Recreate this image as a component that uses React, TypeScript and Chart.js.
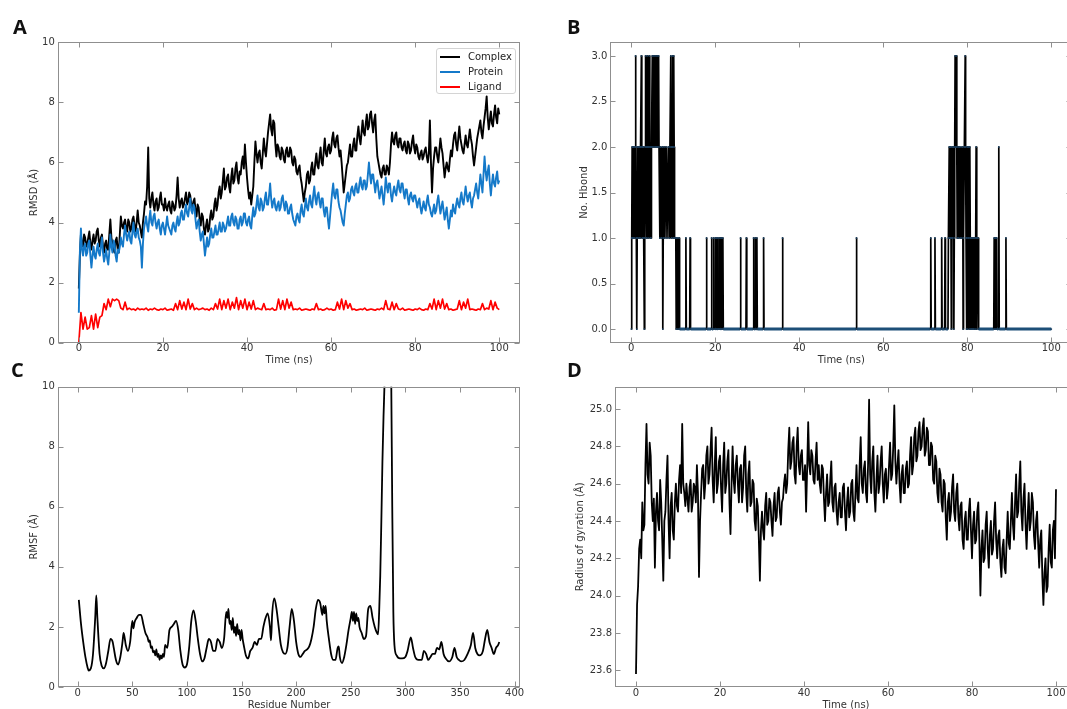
import React, { useEffect, useRef } from "react";
import { Chart, registerables } from "chart.js";

Chart.register(...registerables);

// ---------------- Data ----------------
const timeTicks = [0, 20, 40, 60, 80, 100];
const residueTicks = [0, 50, 100, 150, 200, 250, 300, 350, 400];
const rmsdTicks = [0, 2, 4, 6, 8, 10];
const hbondTicks = [0, 0.5, 1, 1.5, 2, 2.5, 3];
const rgTicks = [23.6, 23.8, 24.0, 24.2, 24.4, 24.6, 24.8, 25.0];

const seriesNames = ["Complex", "Protein", "Ligand"];
const seriesColors = ["#000000", "#1479c9", "#ff0000"];

// frames every 0.25 ns (complex, protein, Rg) and every 0.5 ns (ligand)
const frameTimes = Array.from({ length: 401 }, (_, i) => i * 0.25);
const ligandTimes = Array.from({ length: 201 }, (_, i) => i * 0.5);

const complexRmsd = [
  1.8, 2.9, 3.6, 3.3, 3.2, 3.6, 3.5, 3.2, 3.3, 3.5, 3.7, 3.3, 3.1, 3.4, 3.6, 3.3, 3.4, 3.7, 3.8, 3.4,
  3.2, 3.5, 3.6, 3.2, 3.0, 3.3, 3.4, 3.1, 3.1, 3.6, 4.1, 3.5, 3.3, 3.1, 3.0, 3.4, 3.5, 3.1, 3.0, 3.6,
  4.2, 3.9, 3.8, 4.0, 4.1, 3.8, 3.7, 4.1, 4.0, 3.7, 3.8, 4.1, 4.2, 3.9, 3.7, 4.0, 4.4, 4.0, 3.9, 3.7,
  3.5, 4.0, 4.3, 4.7, 4.6, 5.2, 6.5, 4.8, 4.5, 4.8, 5.0, 4.6, 4.4, 4.7, 4.8, 4.4, 4.5, 4.8, 5.0, 4.6,
  4.6, 4.4, 4.8, 4.5, 4.4, 4.6, 4.7, 4.4, 4.3, 4.7, 4.6, 4.4, 4.5, 4.9, 5.5, 4.8, 4.5, 4.7, 4.8, 4.5,
  4.6, 4.8, 5.0, 4.6, 4.7, 5.0, 4.9, 4.6, 4.5, 4.7, 4.8, 4.4, 4.2, 4.6, 4.5, 4.1, 3.9, 4.3, 4.2, 3.8,
  3.6, 3.9, 4.1, 3.7, 3.8, 4.2, 4.4, 4.1, 4.2, 4.6, 4.8, 4.4, 4.6, 5.0, 5.2, 4.8, 5.0, 5.4, 5.8, 5.1,
  5.2, 5.5, 5.6, 5.2, 5.0, 5.5, 5.8, 5.3, 5.4, 5.8, 6.0, 5.5, 5.3, 5.7, 5.6, 6.0, 6.2, 5.8, 6.6, 6.0,
  5.5, 5.1, 4.8, 5.0, 4.6, 4.9, 5.2, 6.0, 6.7, 6.3, 6.0, 6.3, 6.4, 6.0, 5.8, 6.3, 6.8, 6.4, 6.2, 6.6,
  7.0, 7.3, 7.6, 7.1, 6.9, 7.4, 7.3, 6.6, 6.2, 6.6, 6.5, 6.2, 6.1, 6.5, 6.4, 6.1, 6.0, 6.4, 6.5, 6.2,
  6.2, 6.5, 6.4, 6.0, 5.9, 6.2, 6.1, 5.7, 5.6, 5.8, 5.9, 5.5, 5.3, 5.0, 4.7, 5.0, 5.2, 5.6, 5.7, 5.3,
  5.4, 5.8, 6.0, 5.6, 5.6, 6.0, 6.3, 5.9, 5.8, 6.2, 6.5, 6.0, 5.9, 6.4, 6.8, 6.3, 6.2, 6.5, 6.6, 6.3,
  6.4, 6.8, 7.0, 6.6, 6.5, 6.8, 6.9, 6.5, 6.2, 6.4, 6.0, 5.5, 5.0, 5.3, 5.6, 5.9, 6.0, 6.3, 6.6, 6.2,
  6.2, 6.6, 6.8, 6.4, 6.4, 6.9, 7.2, 6.8, 6.6, 7.0, 7.4, 7.0, 6.9, 7.3, 7.6, 7.1, 7.2, 7.6, 7.7, 7.3,
  7.0, 7.4, 7.6, 6.8, 6.2, 6.0, 5.8, 5.6, 5.5, 5.8, 5.9, 5.6, 5.6, 5.9, 5.8, 5.6, 6.0, 6.6, 7.0, 6.7,
  6.6, 6.9, 7.0, 6.6, 6.5, 6.8, 6.8, 6.5, 6.4, 6.6, 6.7, 6.4, 6.3, 6.7, 6.6, 6.3, 6.4, 6.7, 6.9, 6.5,
  6.3, 6.6, 6.5, 6.2, 6.1, 6.3, 6.4, 6.1, 6.2, 6.4, 6.5, 6.2, 6.0, 6.3, 7.4, 6.0, 5.0, 5.8, 6.2, 6.5,
  6.5, 6.2, 6.0, 6.4, 6.8, 6.5, 6.3, 5.9, 5.5, 5.8, 6.0, 5.8, 5.7, 6.1, 6.4, 6.2, 6.6, 6.9, 7.0, 6.6,
  6.4, 6.8, 7.2, 6.8, 6.6, 6.4, 6.3, 6.6, 6.9, 6.6, 6.5, 6.8, 7.1, 6.8, 6.6, 6.2, 5.9, 6.2, 6.5, 6.8,
  7.0, 7.2, 7.4, 7.0, 6.8, 7.2, 7.5, 7.8, 8.2, 7.5, 7.1, 7.4, 7.7, 7.3, 7.2, 7.6, 7.9, 7.5, 7.3, 7.8,
  7.6,
];

const proteinRmsd = [
  1.0, 3.0, 3.8, 3.1, 2.9, 3.2, 3.3, 2.9, 3.0, 3.3, 3.4, 2.9, 2.5, 2.9, 3.2, 2.9, 2.8, 3.1, 3.3, 3.0,
  2.9, 3.2, 3.5, 3.0, 2.7, 2.9, 3.1, 2.8, 2.6, 3.0, 3.6, 3.2, 3.0, 3.4, 3.3, 2.9, 2.7, 3.1, 3.0, 3.2,
  3.5, 3.3, 3.2, 3.6, 3.9, 3.6, 3.4, 3.6, 3.7, 3.4, 3.3, 3.7, 4.0, 3.6, 3.5, 3.7, 3.8, 3.5, 3.4, 3.2,
  2.5, 3.3, 3.8, 4.0, 4.2, 3.9, 3.7, 4.1, 4.4, 4.0, 3.9, 4.2, 4.3, 4.0, 3.8, 4.0, 4.1, 3.8, 3.6, 3.9,
  4.0, 3.8, 3.6, 3.9, 4.2, 3.9, 3.8, 3.7, 3.6, 3.9, 4.0, 3.8, 3.7, 4.0, 4.2, 3.9, 4.0, 4.3, 4.4, 4.1,
  4.1, 4.4, 4.6, 4.3, 4.2, 4.5, 4.8, 4.4, 4.3, 4.6, 4.5, 4.1, 3.8, 4.0, 4.1, 3.7, 3.4, 3.6, 3.7, 3.3,
  2.9, 3.2, 3.5, 3.2, 3.3, 3.6, 3.8, 3.5, 3.5, 3.7, 3.9, 3.6, 3.6, 3.8, 4.0, 3.7, 3.7, 4.0, 3.9, 3.7,
  3.8, 4.0, 4.2, 3.9, 3.9, 4.2, 4.3, 4.0, 3.9, 4.2, 4.1, 3.8, 3.8, 4.1, 4.2, 3.9, 4.0, 4.3, 4.3, 4.0,
  3.9, 4.1, 4.2, 3.9, 3.8, 4.2, 4.5, 4.2, 4.3, 4.6, 4.9, 4.5, 4.4, 4.8, 4.7, 4.4, 4.5, 4.8, 5.0, 4.6,
  4.6, 4.9, 5.3, 4.8, 4.5, 4.7, 4.8, 4.5, 4.4, 4.6, 4.7, 4.4, 4.5, 4.8, 4.9, 4.6, 4.4, 4.7, 4.6, 4.3,
  4.3, 4.5, 4.6, 4.3, 4.1, 4.0, 3.9, 4.2, 4.3, 4.1, 4.0, 4.4, 4.6, 4.3, 4.2, 4.5, 4.8, 4.5, 4.4, 4.7,
  4.9, 4.6, 4.5, 4.9, 5.2, 4.8, 4.6, 4.9, 5.0, 4.7, 4.5, 4.8, 4.8, 4.4, 4.2, 4.5, 4.5, 4.1, 3.8, 4.2,
  4.6, 5.0, 5.3, 4.9, 4.8, 5.1, 5.1, 4.7, 4.5, 4.4, 4.2, 4.0, 3.9, 4.3, 4.6, 4.9, 5.0, 4.7, 4.8, 5.1,
  5.2, 5.0, 4.9, 5.2, 5.3, 5.0, 5.0, 5.3, 5.5, 5.2, 5.1, 5.4, 5.4, 5.1, 5.2, 5.6, 6.0, 5.6, 5.3, 5.6,
  5.6, 5.3, 5.0, 5.3, 5.4, 5.1, 4.8, 5.0, 5.2, 4.9, 4.6, 5.0, 5.5, 5.2, 5.0, 5.3, 5.3, 4.9, 4.7, 5.0,
  5.2, 5.0, 4.9, 5.2, 5.4, 5.1, 5.0, 5.3, 5.3, 5.0, 4.8, 5.1, 5.1, 4.8, 4.6, 4.9, 5.0, 4.8, 4.7, 4.9,
  4.9, 4.7, 4.5, 4.7, 4.8, 4.5, 4.3, 4.5, 4.7, 4.5, 4.4, 4.7, 4.9, 4.6, 4.5, 4.3, 4.2, 4.4, 4.6, 4.3,
  4.4, 4.7, 4.9, 4.6, 4.3, 4.5, 4.7, 4.4, 4.1, 4.3, 4.5, 4.1, 3.8, 4.1, 4.4, 4.2, 4.6, 4.4, 4.3, 4.6,
  4.8, 4.6, 4.5, 4.8, 5.0, 4.7, 4.6, 4.9, 5.2, 4.9, 4.7, 4.9, 5.0, 4.7, 4.5, 4.8, 4.9, 5.1, 5.3, 5.0,
  4.8, 5.2, 5.6, 5.3, 5.0, 5.6, 6.2, 5.7, 5.4, 5.7, 5.9, 5.3, 4.9, 5.3, 5.6, 5.3, 5.2, 5.5, 5.7, 5.3,
  5.4,
];

const ligandRmsd = [
  0.0, 1.0, 0.45, 0.85, 0.45, 0.5, 0.9, 0.45, 0.95, 0.5,
  0.85, 0.9, 1.3, 1.1, 1.45, 1.2, 1.45, 1.4, 1.45, 1.4,
  1.15, 1.1, 1.35, 1.1, 1.15, 1.1, 1.12, 1.08, 1.15, 1.1,
  1.12, 1.1, 1.15, 1.08, 1.12, 1.1, 1.15, 1.1, 1.08, 1.12,
  1.1, 1.15, 1.08, 1.1, 1.12, 1.08, 1.3, 1.1, 1.4, 1.12,
  1.35, 1.1, 1.45, 1.12, 1.3, 1.1, 1.15, 1.1, 1.12, 1.15,
  1.1, 1.12, 1.08, 1.15, 1.1, 1.3, 1.12, 1.45, 1.1, 1.4,
  1.15, 1.45, 1.1, 1.35, 1.15, 1.5, 1.1, 1.4, 1.15, 1.45,
  1.1, 1.35, 1.12, 1.4, 1.1, 1.15, 1.12, 1.1, 1.3, 1.1,
  1.12, 1.1, 1.15, 1.08, 1.1, 1.45, 1.12, 1.4, 1.1, 1.45,
  1.15, 1.35, 1.1, 1.12, 1.1, 1.15, 1.08, 1.1, 1.12, 1.1,
  1.08, 1.12, 1.1, 1.3, 1.1, 1.12, 1.08, 1.1, 1.15, 1.1,
  1.12, 1.08, 1.1, 1.35, 1.12, 1.45, 1.1, 1.4, 1.15, 1.3,
  1.1, 1.12, 1.08, 1.1, 1.12, 1.1, 1.15, 1.08, 1.1, 1.12,
  1.1, 1.08, 1.12, 1.1, 1.15, 1.1, 1.4, 1.12, 1.1, 1.35,
  1.1, 1.3, 1.12, 1.1, 1.15, 1.08, 1.1, 1.12, 1.1, 1.08,
  1.12, 1.1, 1.15, 1.1, 1.08, 1.12, 1.1, 1.3, 1.12, 1.45,
  1.1, 1.4, 1.15, 1.45, 1.12, 1.3, 1.1, 1.12, 1.08, 1.1,
  1.12, 1.4, 1.1, 1.35, 1.15, 1.45, 1.1, 1.12, 1.1, 1.08,
  1.12, 1.1, 1.3, 1.1, 1.15, 1.12, 1.4, 1.1, 1.35, 1.15,
  1.1,
];

// [time (ns), number of H-bonds]
const hbondCount = [
  [0, 0], [0.1, 1], [0.2, 2], [0.3, 1], [0.4, 2], [0.5, 1], [0.6, 2], [0.8, 1], [0.9, 2], [1.0, 3],
  [1.1, 2], [1.2, 1], [1.3, 0], [1.4, 1], [1.5, 2], [1.6, 1], [1.7, 2], [1.9, 1], [2.0, 2], [2.1, 1],
  [2.2, 2], [2.4, 3], [2.5, 2], [2.6, 1], [2.7, 2], [2.8, 1], [2.9, 2], [3.0, 1], [3.1, 0], [3.2, 1],
  [3.3, 2], [3.4, 3], [3.5, 2], [3.6, 1], [3.7, 2], [3.8, 3], [3.9, 2], [4.0, 1], [4.1, 2], [4.3, 3],
  [4.4, 2], [4.5, 1], [4.6, 2], [4.7, 1], [4.8, 2], [5.0, 3], [5.1, 2], [5.3, 3], [5.4, 2], [5.6, 3],
  [5.7, 2], [5.9, 3], [6.0, 2], [6.2, 3], [6.3, 2], [6.5, 3], [6.6, 2], [6.8, 1], [7.0, 2], [7.2, 1],
  [7.4, 2], [7.5, 0], [7.6, 1], [7.8, 2], [8.0, 1], [8.3, 2], [8.5, 1], [8.8, 2], [9.0, 1], [9.2, 2],
  [9.4, 3], [9.5, 2], [9.6, 1], [9.7, 2], [9.8, 3], [9.9, 2], [10.0, 1], [10.1, 3], [10.2, 2], [10.3, 1],
  [10.6, 1], [10.7, 0], [10.8, 1], [10.9, 0], [11.1, 1], [11.2, 0], [11.4, 1], [11.5, 0],
  [12.9, 0], [13.0, 1], [13.1, 0], [13.9, 0], [14.0, 1], [14.1, 0], [17.8, 0], [17.9, 1], [18.0, 0],
  [19.0, 0], [19.1, 1], [19.2, 0], [19.5, 0], [19.6, 1], [19.7, 0], [19.9, 0], [20.0, 1], [20.1, 0],
  [20.2, 0], [20.3, 1], [20.4, 0], [20.5, 0], [20.6, 1], [20.7, 0], [20.8, 0], [20.9, 1], [21.0, 0],
  [21.1, 0], [21.2, 1], [21.3, 0], [21.4, 0], [21.5, 1], [21.6, 0], [21.7, 0], [21.8, 1], [21.9, 0],
  [25.9, 0], [26.0, 1], [26.1, 0], [27.3, 0], [27.4, 1], [27.5, 0], [29.0, 0], [29.1, 1], [29.2, 0],
  [29.4, 0], [29.5, 1], [29.6, 0], [29.8, 0], [29.9, 1], [30.0, 0], [31.4, 0], [31.5, 1], [31.6, 0],
  [35.9, 0], [36.0, 1], [36.1, 0], [53.5, 0], [53.6, 1], [53.7, 0],
  [71.2, 0], [71.3, 1], [71.4, 0], [72.2, 0], [72.3, 1], [72.4, 0], [73.8, 0], [73.9, 1], [74.0, 0],
  [74.6, 0], [74.7, 1], [74.8, 0], [75.4, 0], [75.5, 1], [75.7, 2], [75.8, 1], [75.9, 2], [76.0, 1],
  [76.1, 2], [76.2, 0], [76.3, 1], [76.4, 2], [76.5, 1], [76.7, 2], [76.8, 0], [76.9, 1], [77.0, 2],
  [77.1, 3], [77.2, 2], [77.4, 3], [77.5, 2], [77.6, 1], [77.8, 2], [77.9, 1], [78.1, 2], [78.3, 1],
  [78.5, 2], [78.7, 1], [78.9, 2], [79.0, 0], [79.1, 1], [79.3, 2], [79.5, 3], [79.6, 2], [79.7, 1],
  [79.8, 0], [79.9, 1], [80.0, 2], [80.1, 0], [80.2, 1], [80.3, 2], [80.4, 1], [80.5, 0], [80.6, 2],
  [80.7, 1], [80.8, 0], [80.9, 1], [81.0, 0], [81.1, 1], [81.2, 0], [81.3, 1], [81.4, 0], [81.5, 1],
  [81.6, 0], [81.7, 1], [81.9, 0], [82.0, 1], [82.1, 2], [82.2, 1], [82.3, 0], [82.4, 1], [82.6, 1],
  [82.7, 0], [86.3, 0], [86.4, 1], [86.5, 0], [86.6, 1], [86.7, 0], [86.8, 1], [86.9, 0], [87.0, 1],
  [87.1, 0], [87.4, 0], [87.5, 2], [87.6, 0], [89.1, 0], [89.2, 1], [89.3, 0], [100, 0],
];

// [residue number, RMSF (Å)]
const residueRmsf = [
  [1, 2.9], [3, 2.1], [5, 1.5], [7, 1.0], [9, 0.65], [10, 0.55], [12, 0.62], [14, 1.1], [16, 2.3], [17, 3.05],
  [18, 2.3], [20, 1.1], [22, 0.7], [24, 0.62], [26, 0.8], [28, 1.2], [30, 1.6], [32, 1.5], [33, 1.3], [35, 0.9],
  [37, 0.75], [39, 1.0], [41, 1.5], [42, 1.8], [44, 1.4], [46, 1.2], [48, 1.5], [50, 2.2], [51, 1.95], [52, 2.15],
  [54, 2.3], [56, 2.4], [58, 2.4], [60, 2.1], [62, 1.8], [64, 1.65], [65, 1.5], [66, 1.55], [67, 1.3], [68, 1.35],
  [69, 1.15], [70, 1.2], [71, 1.05], [72, 1.25], [73, 1.0], [74, 1.1], [75, 0.9], [76, 1.05], [77, 0.95], [78, 1.1],
  [79, 1.0], [80, 1.4], [82, 1.3], [84, 1.9], [86, 2.0], [88, 2.1], [90, 2.2], [92, 1.9],
  [94, 1.2], [96, 0.75], [98, 0.65], [100, 0.75], [102, 1.3], [104, 2.2], [106, 2.55], [108, 2.2], [110, 1.6], [112, 1.1],
  [114, 0.85], [116, 0.95], [118, 1.3], [120, 1.6], [122, 1.5], [124, 1.2], [126, 1.2], [128, 1.6], [130, 1.5], [132, 1.3],
  [134, 1.6], [136, 2.5], [137, 2.3], [138, 2.6], [139, 2.1], [140, 2.2], [141, 1.9], [142, 2.3], [143, 1.8], [144, 2.0],
  [145, 1.7], [146, 2.1], [147, 1.75], [148, 1.9], [149, 1.55], [150, 1.9], [151, 1.6], [152, 1.4],
  [154, 1.05], [156, 0.95], [158, 1.2], [160, 1.3], [162, 1.5], [164, 1.4], [166, 1.6], [168, 1.6], [170, 2.0], [172, 2.3],
  [174, 2.45], [176, 2.0], [177, 1.55], [178, 2.4], [180, 2.95], [182, 2.6], [184, 2.0], [186, 1.4], [188, 1.15], [190, 1.1],
  [192, 1.3], [194, 2.0], [196, 2.6], [198, 2.2], [200, 1.5], [202, 1.1], [204, 1.0], [206, 1.1], [208, 1.2], [210, 1.25],
  [212, 1.35], [214, 1.6], [216, 2.0], [218, 2.6], [220, 2.9], [222, 2.8], [224, 2.4], [225, 2.7], [226, 2.45], [227, 2.7],
  [228, 2.2], [230, 1.6], [232, 1.1], [234, 0.9], [236, 0.9], [238, 1.3], [239, 1.35], [240, 1.0], [242, 0.8], [244, 1.0],
  [246, 1.4], [248, 1.9], [250, 2.3], [251, 2.5], [252, 2.2], [253, 2.5], [254, 2.1], [255, 2.45], [256, 2.2], [257, 2.3],
  [258, 2.0], [260, 1.8], [262, 1.6], [264, 1.7], [266, 2.6], [268, 2.7],
  [270, 2.3], [272, 2.0], [274, 1.8], [275, 1.75], [276, 2.5], [277, 3.7], [278, 5.5], [279, 7.5], [280, 9.0], [281, 10.2],
  [283, 14.0], [285, 14.0], [287, 10.5], [288, 6.0], [289, 2.5], [290, 1.4], [292, 1.05], [295, 0.95], [297, 0.95], [300, 1.0],
  [302, 1.2], [305, 1.65], [307, 1.3], [309, 1.0], [312, 0.9], [315, 0.9], [317, 1.2], [319, 1.1], [321, 0.9], [323, 1.0],
  [325, 1.1], [327, 1.1], [329, 1.3], [331, 1.25], [333, 1.5], [335, 1.1], [337, 0.95], [340, 0.85], [343, 1.0], [345, 1.3],
  [347, 1.0], [349, 0.9], [351, 0.85], [354, 0.9], [357, 1.1], [360, 1.4], [362, 1.8], [364, 1.3], [366, 1.1], [368, 1.05],
  [371, 1.2], [373, 1.6], [375, 1.9], [377, 1.5], [379, 1.3], [381, 1.1], [383, 1.3], [385, 1.4], [386, 1.5],
];

const radiusGyration = [
  23.58, 23.95, 24.05, 24.25, 24.3, 24.2, 24.5, 24.35, 24.38, 24.7, 24.92, 24.65, 24.6, 24.82, 24.75, 24.5, 24.4, 24.52, 24.15, 24.45,
  24.55, 24.4, 24.35, 24.62, 24.5, 24.3, 24.08, 24.4, 24.45, 24.62, 24.75, 24.4, 24.2, 24.48, 24.55, 24.35, 24.3, 24.5, 24.6, 24.48,
  24.45, 24.62, 24.7, 24.55, 24.92, 24.6, 24.55, 24.48, 24.6, 24.52, 24.45, 24.58, 24.62, 24.45, 24.5, 24.6, 24.58, 24.5, 24.7, 24.55,
  24.1, 24.4, 24.55, 24.68, 24.7, 24.52, 24.6, 24.75, 24.8, 24.6, 24.65, 24.78, 24.9, 24.62, 24.5, 24.7, 24.85, 24.55, 24.6, 24.72,
  24.75, 24.58, 24.45, 24.7, 24.82, 24.55, 24.6, 24.72, 24.78, 24.5, 24.33, 24.6, 24.8, 24.62, 24.55, 24.7, 24.75, 24.6, 24.5, 24.68,
  24.7, 24.5, 24.58, 24.75, 24.8, 24.55, 24.45, 24.65, 24.72, 24.48, 24.5, 24.62, 24.6, 24.4, 24.35, 24.52, 24.48, 24.3, 24.08, 24.35,
  24.45, 24.35, 24.3, 24.48, 24.55, 24.38, 24.4, 24.52, 24.5, 24.4, 24.32, 24.48, 24.55, 24.4, 24.42, 24.55, 24.58, 24.45, 24.38, 24.5,
  24.52, 24.6, 24.65, 24.55, 24.6, 24.78, 24.9, 24.68, 24.72, 24.82, 24.85, 24.65, 24.6, 24.8, 24.9, 24.7, 24.65, 24.75, 24.78, 24.62,
  24.62, 24.7, 24.45, 24.68, 24.93, 24.7, 24.65, 24.78, 24.75, 24.62, 24.6, 24.72, 24.82, 24.62, 24.7, 24.6, 24.55, 24.7, 24.68, 24.52,
  24.4, 24.55, 24.65, 24.48, 24.5, 24.62, 24.72, 24.5, 24.45, 24.58, 24.6, 24.45, 24.38, 24.5, 24.55, 24.42, 24.42, 24.58, 24.6, 24.45,
  24.35, 24.5, 24.58, 24.42, 24.45, 24.6, 24.62, 24.45, 24.4, 24.55, 24.7, 24.52, 24.5, 24.7, 24.85, 24.6, 24.55, 24.68, 24.72, 24.55,
  24.5, 24.7, 25.05, 24.65, 24.55, 24.72, 24.8, 24.55, 24.45, 24.62, 24.75, 24.55, 24.6, 24.72, 24.8, 24.6, 24.5, 24.65, 24.68, 24.52,
  24.58, 24.7, 24.82, 24.62, 24.65, 24.8, 25.02, 24.72, 24.6, 24.7, 24.78, 24.6, 24.5, 24.65, 24.7, 24.55, 24.55, 24.68, 24.72, 24.58,
  24.6, 24.75, 24.85, 24.65, 24.7, 24.85, 24.9, 24.72, 24.75, 24.88, 24.93, 24.78, 24.8, 24.9, 24.95, 24.75, 24.78, 24.9, 24.88, 24.7,
  24.7, 24.82, 24.8, 24.62, 24.6, 24.75, 24.72, 24.55, 24.5, 24.68, 24.65, 24.5, 24.45, 24.62, 24.6, 24.42, 24.3, 24.5, 24.55, 24.4,
  24.45, 24.58, 24.65, 24.45, 24.4, 24.55, 24.6, 24.42, 24.35, 24.48, 24.5, 24.3, 24.25, 24.4, 24.45, 24.3, 24.3, 24.45, 24.52, 24.35,
  24.2, 24.38, 24.45, 24.28, 24.3, 24.45, 24.5, 24.3, 24.0, 24.25, 24.35, 24.18, 24.2, 24.38, 24.45, 24.25, 24.15, 24.32, 24.4, 24.22,
  24.25, 24.4, 24.5, 24.3, 24.2, 24.32, 24.35, 24.18, 24.1, 24.25, 24.3, 24.15, 24.12, 24.3, 24.45, 24.28, 24.25, 24.4, 24.55, 24.38,
  24.3, 24.5, 24.65, 24.42, 24.45, 24.6, 24.72, 24.45, 24.35, 24.52, 24.6, 24.38, 24.25, 24.42, 24.55, 24.35, 24.4, 24.55, 24.5, 24.32,
  24.25, 24.4, 24.45, 24.28, 24.15, 24.3, 24.35, 24.1, 23.95, 24.12, 24.2, 24.02, 24.05, 24.25, 24.38, 24.18, 24.15, 24.35, 24.4, 24.2,
  24.57,
];

// ---------------- Styling / layout ----------------
const FONT = "'DejaVu Sans', 'Liberation Sans', sans-serif";
const TEXT = "#333333";
const FRAME = "#8f8f8f";

const frameTicksPlugin = {
  id: "frameTicks",
  afterDatasetsDraw(chart: any) {
    const { ctx, chartArea: a, scales } = chart;
    const xs = scales.x;
    const ys = scales.y;
    const L = Math.round(a.left) + 0.5;
    const R = Math.round(a.right) - 0.5;
    const T = Math.round(a.top) + 0.5;
    const B = Math.round(a.bottom) - 0.5;
    const len = 5;
    ctx.save();
    ctx.strokeStyle = FRAME;
    ctx.lineWidth = 1;
    ctx.strokeRect(L, T, R - L, B - T);
    ctx.beginPath();
    xs.ticks.forEach((t: any) => {
      const p = Math.round(xs.getPixelForValue(t.value)) + 0.5;
      ctx.moveTo(p, B);
      ctx.lineTo(p, B - len);
      ctx.moveTo(p, T);
      ctx.lineTo(p, T + len);
    });
    ys.ticks.forEach((t: any) => {
      const p = Math.round(ys.getPixelForValue(t.value)) + 0.5;
      ctx.moveTo(L, p);
      ctx.lineTo(L + len, p);
      ctx.moveTo(R, p);
      ctx.lineTo(R - len, p);
    });
    ctx.stroke();
    ctx.restore();
  },
};

function axis(opts: any) {
  const { min, max, ticks, title, fmt, size, isX, pad } = opts;
  return {
    type: "linear",
    min,
    max,
    afterBuildTicks: (s: any) => {
      s.ticks = ticks.map((v: number) => ({ value: v }));
    },
    afterFit: (s: any) => {
      if (isX) s.height = size;
      else s.width = size;
    },
    grid: { display: false, drawTicks: false },
    border: { display: false },
    ticks: {
      autoSkip: false,
      maxRotation: 0,
      padding: pad,
      color: TEXT,
      font: { family: FONT, size: 10 },
      callback: (v: number) => fmt(v),
    },
    title: {
      display: true,
      text: title,
      color: TEXT,
      padding: 0,
      font: { family: FONT, size: 10 },
    },
  };
}

function baseOptions(p: any) {
  return {
    responsive: false,
    maintainAspectRatio: false,
    animation: false,
    devicePixelRatio: 1,
    layout: { padding: p.padding },
    plugins: { legend: { display: false }, tooltip: { enabled: false } },
    elements: { point: { radius: 0 }, line: { borderJoinStyle: "round" } },
    scales: {
      x: axis({ ...p.x, isX: true, size: 24, pad: 0 }),
      y: axis({ ...p.y, isX: false, size: p.yWidth, pad: 3 }),
    },
  };
}

const int = (v: number) => String(v);
const one = (v: number) => v.toFixed(1);

const panelA = {
  left: 0, top: 0, width: 533, height: 372,
  padding: { left: 28.5, top: 42.3, right: 12.7, bottom: 5.3 },
  yWidth: 29.3,
  x: { min: -5, max: 105, ticks: timeTicks, title: "Time (ns)", fmt: int },
  y: { min: 0, max: 10, ticks: rmsdTicks, title: "RMSD (Å)", fmt: int },
  datasets: () => [
    { label: seriesNames[0], data: frameTimes.map((t, i) => ({ x: t, y: complexRmsd[i] })), borderColor: seriesColors[0], borderWidth: 1.9, order: 3 },
    { label: seriesNames[1], data: frameTimes.map((t, i) => ({ x: t, y: proteinRmsd[i] })), borderColor: seriesColors[1], borderWidth: 1.9, order: 2 },
    { label: seriesNames[2], data: ligandTimes.map((t, i) => ({ x: t, y: ligandRmsd[i] })), borderColor: seriesColors[2], borderWidth: 1.7, order: 1 },
  ],
};

const isZeroSeg = (c: any) => c.p0.parsed.y === 0 && c.p1.parsed.y === 0;

const panelB = {
  left: 533, top: 0, width: 547, height: 372,
  padding: { left: 45, top: 42.3, right: 7.7, bottom: 5.3 },
  yWidth: 32.3,
  x: { min: -5, max: 105, ticks: timeTicks, title: "Time (ns)", fmt: int },
  y: { min: -0.15, max: 3.15, ticks: hbondTicks, title: "No. Hbond", fmt: one },
  datasets: () => [
    {
      label: "Hbond",
      data: hbondCount.map((d) => ({ x: d[0], y: d[1] })),
      borderColor: "#000000",
      borderWidth: 1.7,
      pointRadius: 0.9,
      pointBorderWidth: 0,
      pointBackgroundColor: "#1c3f5e",
      segment: {
        borderColor: (c: any) => (isZeroSeg(c) ? "#1d4f78" : undefined),
        borderWidth: (c: any) => (isZeroSeg(c) ? 3 : undefined),
      },
    },
  ],
};

const panelC = {
  left: 0, top: 372, width: 533, height: 345,
  padding: { left: 28.5, top: 14.7, right: 12.7, bottom: 6 },
  yWidth: 29.3,
  x: { min: -18.25, max: 405.25, ticks: residueTicks, title: "Residue Number", fmt: int },
  y: { min: 0, max: 10, ticks: rmsdTicks, title: "RMSF (Å)", fmt: int },
  datasets: () => [
    {
      label: "RMSF",
      data: residueRmsf.map((d) => ({ x: d[0], y: d[1] })),
      borderColor: "#000000",
      borderWidth: 1.8,
      cubicInterpolationMode: "monotone",
    },
  ],
};

const panelD = {
  left: 533, top: 372, width: 547, height: 345,
  padding: { left: 41.6, top: 14.7, right: 3, bottom: 6 },
  yWidth: 40.4,
  x: { min: -5, max: 105, ticks: timeTicks, title: "Time (ns)", fmt: int },
  y: { min: 23.51, max: 25.12, ticks: rgTicks, title: "Radius of gyration (Å)", fmt: one },
  datasets: () => [
    {
      label: "Rg",
      data: frameTimes.map((t, i) => ({ x: t, y: radiusGyration[i] })),
      borderColor: "#000000",
      borderWidth: 1.8,
    },
  ],
};

function Panel({ cfg }: { cfg: any }) {
  const ref = useRef<HTMLCanvasElement | null>(null);
  useEffect(() => {
    if (!ref.current) return;
    const chart = new Chart(ref.current, {
      type: "line",
      data: { datasets: cfg.datasets() },
      options: baseOptions(cfg) as any,
      plugins: [frameTicksPlugin],
    } as any);
    return () => chart.destroy();
  }, [cfg]);
  return (
    <canvas
      ref={ref}
      width={cfg.width}
      height={cfg.height}
      style={{ position: "absolute", left: cfg.left, top: cfg.top, width: cfg.width, height: cfg.height }}
    />
  );
}

const letterStyle: any = {
  position: "absolute",
  fontFamily: "'Open Sans', 'Liberation Sans', sans-serif",
  fontWeight: 700,
  fontSize: 20,
  lineHeight: "20px",
  color: "#111",
};

export default function App() {
  return (
    <div style={{ position: "absolute", left: 0, top: 0, width: 1067, height: 709, overflow: "hidden", background: "#fff" }}>
      <Panel cfg={panelA} />
      <Panel cfg={panelB} />
      <Panel cfg={panelC} />
      <Panel cfg={panelD} />
      <div style={{ ...letterStyle, left: 13, top: 17 }}>A</div>
      <div style={{ ...letterStyle, left: 567, top: 17 }}>B</div>
      <div style={{ ...letterStyle, left: 11, top: 360 }}>C</div>
      <div style={{ ...letterStyle, left: 567, top: 360 }}>D</div>
      <div
        style={{
          position: "absolute", left: 436, top: 48, width: 80, height: 46, boxSizing: "border-box",
          border: "1px solid #d4d4d4", borderRadius: 3, background: "rgba(255,255,255,0.9)",
          fontFamily: FONT, fontSize: 10, color: "#222",
        }}
      >
        {seriesNames.map((name, i) => (
          <div key={name} style={{ position: "absolute", left: 0, top: 1 + i * 14.8, height: 14, width: "100%" }}>
            <div style={{ position: "absolute", left: 3, top: 6, width: 20, height: 2, background: seriesColors[i] }} />
            <div style={{ position: "absolute", left: 31, top: 0, lineHeight: "14px", whiteSpace: "nowrap" }}>{name}</div>
          </div>
        ))}
      </div>
    </div>
  );
}
